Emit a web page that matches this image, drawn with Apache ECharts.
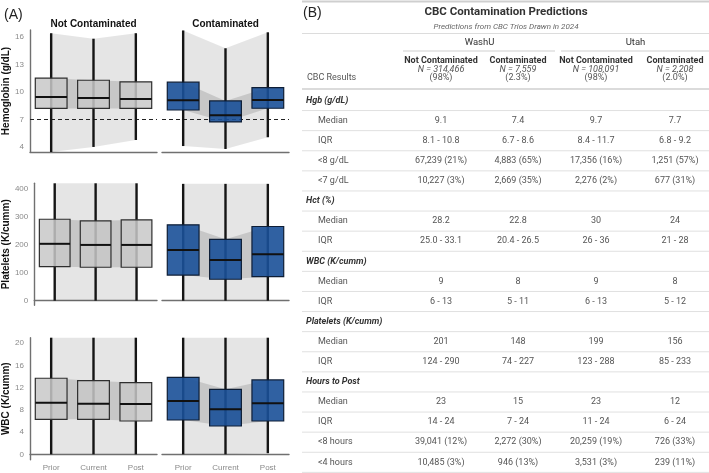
<!DOCTYPE html>
<html>
<head>
<meta charset="utf-8">
<script src="https://cdn.jsdelivr.net/npm/echarts@6/dist/echarts.min.js"></script>
<style>
  html, body { margin: 0; padding: 0; background: #fff; }
  #chart { width: 709px; height: 473px; }
</style>
</head>
<body>
<div id="chart"></div>
<script>
// panel A data: [min, q1, median, q3, max] for Prior / Current / Post
const categories = ['Prior', 'Current', 'Post']
const hgbNot = [[3.45, 8.2, 9.45, 11.5, 16.4], [4.0, 8.2, 9.35, 11.27, 15.8], [4.76, 8.2, 9.23, 11.1, 16.4]]
const hgbCont = [[4.1, 8.03, 9.09, 11.06, 16.7], [3.78, 6.73, 7.46, 9.02, 14.76], [5.06, 8.22, 9.13, 10.47, 16.5]]
const pltNot = [[0, 122, 204, 292, 421], [0, 120, 200, 286, 421], [0, 120, 200, 290, 421]]
const pltCont = [[0, 92, 182, 272, 419], [0, 77, 146, 220, 419], [0, 86, 167, 266, 419]]
const wbcNot = [[0, 6.3, 9.3, 13.7, 21], [0, 6.3, 9.1, 13.26, 21], [0, 6.0, 9.06, 12.9, 21]]
const wbcCont = [[0, 6.18, 9.6, 13.87, 21], [0, 5.1, 8.1, 11.7, 21], [0.2, 6.0, 9.2, 13.4, 21]]
const hgbThreshold = 7
const hgbTicks = [4, 7, 10, 13, 16]
const pltTicks = [0, 100, 200, 300, 400]
const wbcTicks = [0, 4, 8, 12, 16, 20]
const yNames = ['Hemoglobin (g/dL)', 'Platelets (K/cumm)', 'WBC (K/cumm)']
const panelTitles = ['Not Contaminated', 'Contaminated']

// panel B data
const tableTitle = 'CBC Contamination Predictions'
const tableSubtitle = 'Predictions from CBC Trios Drawn in 2024'
const sites = ['WashU', 'Utah']
const groupNames = ['Not Contaminated', 'Contaminated', 'Not Contaminated', 'Contaminated']
const groupN = ['N = 314,466', 'N = 7,559', 'N = 108,091', 'N = 2,208']
const groupPct = ['(98%)', '(2.3%)', '(98%)', '(2.0%)']
const rowLabels = ['Hgb (g/dL)', 'Median', 'IQR', '<8 g/dL', '<7 g/dL', 'Hct (%)', 'Median', 'IQR',
  'WBC (K/cumm)', 'Median', 'IQR', 'Platelets (K/cumm)', 'Median', 'IQR',
  'Hours to Post', 'Median', 'IQR', '<8 hours', '<4 hours']
const washuNot = ['', '9.1', '8.1 - 10.8', '67,239 (21%)', '10,227 (3%)', '', '28.2', '25.0 - 33.1', '', '9', '6 - 13', '', '201', '124 - 290', '', '23', '14 - 24', '39,041 (12%)', '10,485 (3%)']
const washuCont = ['', '7.4', '6.7 - 8.6', '4,883 (65%)', '2,669 (35%)', '', '22.8', '20.4 - 26.5', '', '8', '5 - 11', '', '148', '74 - 227', '', '15', '7 - 24', '2,272 (30%)', '946 (13%)']
const utahNot = ['', '9.7', '8.4 - 11.7', '17,356 (16%)', '2,276 (2%)', '', '30', '26 - 36', '', '9', '6 - 13', '', '199', '123 - 288', '', '23', '11 - 24', '20,259 (19%)', '3,531 (3%)']
const utahCont = ['', '7.7', '6.8 - 9.2', '1,251 (57%)', '677 (31%)', '', '24', '21 - 28', '', '8', '5 - 12', '', '156', '85 - 233', '', '12', '6 - 24', '726 (33%)', '239 (11%)']

const leftFont = 'Liberation Sans'
const tableFont = 'Roboto'

const rows = [
  {stats: [hgbNot, hgbCont], ticks: hgbTicks, min: 3.45, max: 16.75, top: 30},
  {stats: [pltNot, pltCont], ticks: pltTicks, min: -16.5, max: 421, top: 183.3},
  {stats: [wbcNot, wbcCont], ticks: wbcTicks, min: -0.97, max: 21, top: 337.7}
]
const fills = [['rgba(0,0,0,0.1)', 'rgba(0,0,0,0.13)'], ['rgba(0,0,0,0.1)', 'rgba(0,0,0,0.13)']]
const boxStyles = [
  {fill: 'rgba(200,200,200,0.85)', stroke: '#2e2e2e'},
  {fill: 'rgba(26,80,152,0.9)', stroke: '#0e1e36'}
]

function bandRenderer (fill) {
  return function (params, api) {
    const i = api.value(0)
    const p1 = api.coord([i, api.value(1)])
    const p2 = api.coord([i + 1, api.value(3)])
    const p3 = api.coord([i + 1, api.value(4)])
    const p4 = api.coord([i, api.value(2)])
    return {type: 'polygon', shape: {points: [p1, p2, p3, p4]}, style: {fill: fill}, silent: true}
  }
}

function boxRenderer (st) {
  return function (params, api) {
    const i = api.value(0)
    const y = k => api.coord([i, api.value(k)])[1]
    const cx = api.coord([i, api.value(3)])[0]
    const bw = api.size([1, 0])[0] * 0.75
    return {
      type: 'group',
      children: [
        {type: 'line', shape: {x1: cx, y1: y(5), x2: cx, y2: y(1)}, style: {stroke: '#151515', lineWidth: 2.4}},
        {type: 'rect', shape: {x: cx - bw / 2, y: y(4), width: bw, height: y(2) - y(4)}, style: {fill: st.fill, stroke: st.stroke, lineWidth: 1.2}},
        {type: 'line', shape: {x1: cx - bw / 2, y1: y(3), x2: cx + bw / 2, y2: y(3)}, style: {stroke: '#111', lineWidth: 2}}
      ]
    }
  }
}

const grids = []
const xAxes = []
const yAxes = []
const series = []
rows.forEach((row, r) => {
  [0, 1].forEach(c => {
    const idx = r * 2 + c
    const s = row.stats[c]
    grids.push({left: c === 0 ? 30 : 162, width: 127, top: row.top, height: 122})
    xAxes.push({
      type: 'category',
      gridIndex: idx,
      data: categories,
      axisLine: {show: true, lineStyle: {color: '#707070', width: 1.4}},
      axisTick: {show: false},
      axisLabel: {show: r === 2, color: '#8a8a8a', fontSize: 8, fontFamily: leftFont, margin: 4}
    })
    yAxes.push({
      type: 'value',
      gridIndex: idx,
      min: row.min,
      max: row.max,
      show: c === 0,
      name: c === 0 ? yNames[r] : '',
      nameLocation: 'middle',
      nameRotate: 90,
      nameGap: 15,
      nameTextStyle: {color: '#111', fontWeight: 'bold', fontSize: 10, fontFamily: leftFont},
      axisLine: {show: true, lineStyle: {color: '#707070', width: 1.4}},
      axisTick: {show: false},
      splitLine: {show: false},
      axisLabel: {customValues: row.ticks, color: '#8a8a8a', fontSize: 8, fontFamily: leftFont, margin: 6}
    })
    const outer = [0, 1].map(i => [i, s[i][0], s[i][4], s[i + 1][0], s[i + 1][4]])
    const inner = [0, 1].map(i => [i, s[i][1], s[i][3], s[i + 1][1], s[i + 1][3]])
    series.push({
      type: 'custom', xAxisIndex: idx, yAxisIndex: idx, z: 1,
      renderItem: bandRenderer(fills[c][0]), data: outer, encode: {x: 0, y: [1, 2, 3, 4]}
    })
    series.push({
      type: 'custom', xAxisIndex: idx, yAxisIndex: idx, z: 1,
      renderItem: bandRenderer(fills[c][1]), data: inner, encode: {x: 0, y: [1, 2, 3, 4]}
    })
    const box = {
      type: 'custom', xAxisIndex: idx, yAxisIndex: idx, z: 3,
      renderItem: boxRenderer(boxStyles[c]),
      data: s.map((v, i) => [i].concat(v)),
      encode: {x: 0, y: [1, 2, 3, 4, 5]}
    }
    if (r === 0) {
      box.markLine = {
        silent: true, symbol: 'none', z: 2,
        label: {show: false},
        lineStyle: {type: [4, 3], color: '#222', width: 1},
        data: [{yAxis: hgbThreshold}]
      }
    }
    series.push(box)
  })
})

// table B drawn as text elements
function txt (x, y, text, o) {
  const st = Object.assign({
    text: text, x: x, y: y, fill: '#555', fontSize: 9, fontFamily: tableFont,
    align: 'left', verticalAlign: 'middle', textVerticalAlign: 'middle'
  }, o || {})
  st.textAlign = st.align
  return {type: 'text', silent: true, style: st}
}
function hline (x1, x2, y, color, w) {
  return {type: 'line', silent: true, shape: {x1: x1, y1: y, x2: x2, y2: y}, style: {stroke: color, lineWidth: w || 1}}
}

const tLeft = 302
const tRight = 709
const colX = [441, 518, 596, 675]
const rowY0 = 100.5
const rowStep = 20.1
const cols = [washuNot, washuCont, utahNot, utahCont]

const g = []
g.push(txt(4, 15, '(A)', {fontSize: 14, fill: '#222', fontFamily: leftFont}))
g.push(txt(93.5, 24, panelTitles[0], {fontSize: 10, fontWeight: 'bold', fill: '#111', fontFamily: leftFont, align: 'center'}))
g.push(txt(225.5, 24, panelTitles[1], {fontSize: 10, fontWeight: 'bold', fill: '#111', fontFamily: leftFont, align: 'center'}))

g.push(hline(tLeft, tRight, 1.5, '#cfcfcf', 2))
g.push(txt(303, 13, '(B)', {fontSize: 14, fill: '#222', fontFamily: leftFont}))
g.push(txt(506, 12, tableTitle, {fontSize: 11.5, fontWeight: 'bold', fill: '#333', align: 'center'}))
g.push(txt(506, 26.5, tableSubtitle, {fontSize: 8, fontStyle: 'italic', fill: '#666', align: 'center'}))
g.push(hline(tLeft, tRight, 33.5, '#dcdcdc', 1))
g.push(txt((colX[0] + colX[1]) / 2, 43, sites[0], {fontSize: 9.5, fill: '#333', align: 'center'}))
g.push(txt((colX[2] + colX[3]) / 2, 43, sites[1], {fontSize: 9.5, fill: '#333', align: 'center'}))
g.push(hline(403, 555, 51, '#cfcfcf', 1))
g.push(hline(561, tRight, 51, '#cfcfcf', 1))
colX.forEach((x, i) => {
  g.push(txt(x, 61, groupNames[i], {fontSize: 9, fontWeight: 'bold', fill: '#333', align: 'center'}))
  g.push(txt(x, 69.3, groupN[i], {fontStyle: 'italic', align: 'center'}))
  g.push(txt(x, 77.5, groupPct[i], {align: 'center'}))
})
g.push(txt(307, 77.5, 'CBC Results'))
g.push(hline(tLeft, tRight, 89, '#cfcfcf', 1.5))
rowLabels.forEach((label, i) => {
  const y = rowY0 + i * rowStep
  const isGroup = cols.every(c => c[i] === '')
  if (isGroup) {
    g.push(txt(306, y, label, {fontWeight: 'bold', fontStyle: 'italic', fill: '#333'}))
  } else {
    g.push(txt(318, y, label))
    cols.forEach((c, k) => g.push(txt(colX[k], y, c[i], {align: 'center'})))
  }
  g.push(hline(tLeft, tRight, y + rowStep / 2, '#e0e0e0', 1))
})

const chart = echarts.init(document.getElementById('chart'), null, {renderer: 'canvas'})
chart.setOption({
  animation: false,
  backgroundColor: '#fff',
  grid: grids,
  xAxis: xAxes,
  yAxis: yAxes,
  series: series,
  graphic: {elements: g}
})
</script>
</body>
</html>
